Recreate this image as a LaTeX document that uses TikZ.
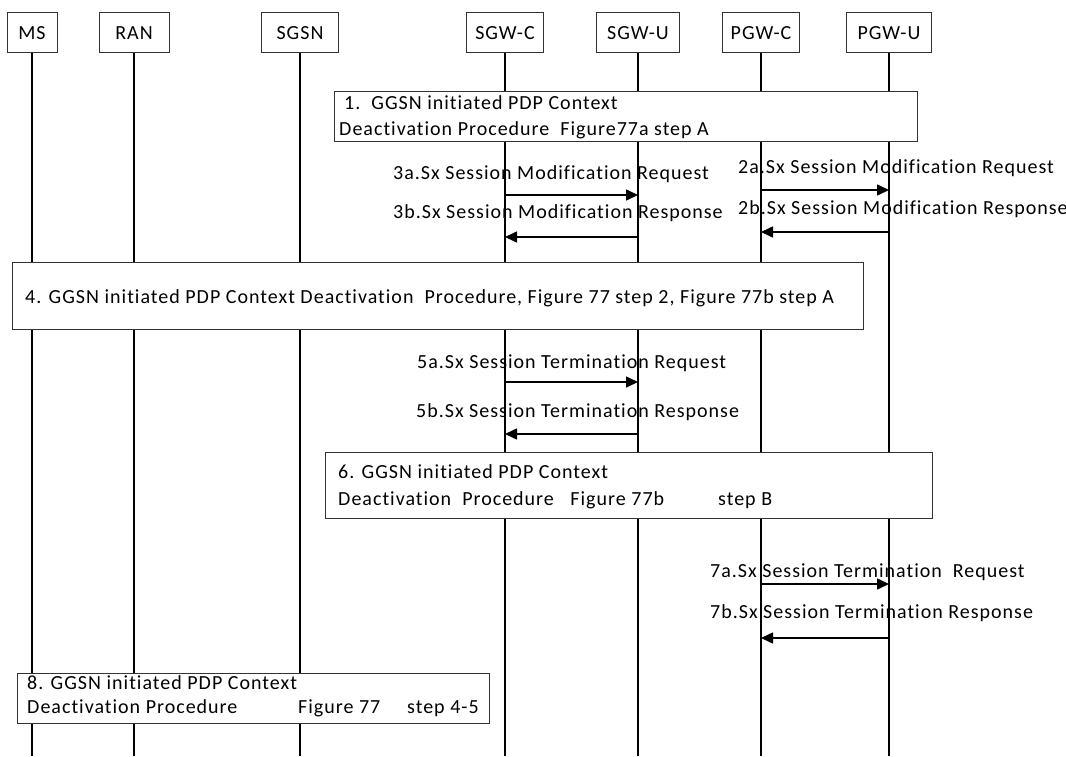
\documentclass[tikz,border=0pt]{standalone}
\usepackage{fontspec}
\setmainfont{Carlito}
\newfontfamily\dfont[LetterSpace=5, Ligatures={NoCommon,NoContextual}, Contextuals=NoAlternate]{Carlito}
\usetikzlibrary{arrows.meta}
\begin{document}
\begin{tikzpicture}[x=1pt,y=-1pt,
  txt/.style={font=\dfont\fontsize{20}{24}\selectfont},
  head/.style={txt, draw=black!80, line width=0.9pt, fill=white, minimum height=40pt, inner sep=0pt},
  life/.style={line width=1.2pt},
  msg/.style={line width=1.6pt, -{Triangle[length=12pt,width=11pt]}},
  lbl/.style={txt, anchor=base west, inner sep=0pt},
  pbox/.style={draw=black!80, line width=0.9pt, fill=white, anchor=north west, inner sep=0pt}
]
\useasboundingbox (0,0) rectangle (1066,756);
\coordinate (bottom) at (0,756);
% headers
\node[head, minimum width=50pt] (hMS) at (32,32.7) {MS};
\node[head, minimum width=70pt] (hRAN) at (134,32.7) {RAN};
\node[head, minimum width=77pt] (hSGSN) at (300,32.7) {SGSN};
\node[head, minimum width=77pt] (hSGWC) at (505,32.7) {SGW-C};
\node[head, minimum width=83pt] (hSGWU) at (638,32.7) {SGW-U};
\node[head, minimum width=77pt] (hPGWC) at (761,32.7) {PGW-C};
\node[head, minimum width=85pt] (hPGWU) at (889,32.7) {PGW-U};
% lifelines
\foreach \n in {hMS,hRAN,hSGSN,hSGWC,hSGWU,hPGWC,hPGWU}
  \draw[life] (\n.south) -- (\n.south |- bottom);
% procedure boxes
\node[pbox, minimum width=583pt, minimum height=50pt] (b1) at (334,90.7) {};
\node[lbl] (t1a) at (344,109.3) {1.\ \ GGSN initiated PDP Context};
\node[lbl] (t1b) at (339,135.7) {Deactivation Procedure\ \ Figure77a step A};
\node[pbox, minimum width=851pt, minimum height=67pt] (b4) at (12,262) {};
\node[lbl] (t4) at (25,303) {4. GGSN initiated PDP Context Deactivation\ \ Procedure, Figure 77 step 2, Figure 77b step A};
\node[pbox, minimum width=607pt, minimum height=66pt] (b6) at (325,452) {};
\node[lbl] (t6a) at (338,478) {6. GGSN initiated PDP Context};
\node[lbl] (t6b) at (338,505) {Deactivation\ \ Procedure\ \ \ Figure 77b};
\node[lbl] (t6c) at (718,505) {step B};
\node[pbox, minimum width=472pt, minimum height=50pt] (b8) at (17,673) {};
\node[lbl] (t8a) at (27,689) {8. GGSN initiated PDP Context};
\node[lbl] (t8b) at (27,713) {Deactivation Procedure};
\node[lbl] (t8c) at (298,713) {Figure 77};
\node[lbl] (t8d) at (407,713) {step 4-5};
% messages
\draw[msg] (hSGWC |- 0,195) -- (hSGWU |- 0,195);
\draw[msg] (hSGWU |- 0,237) -- (hSGWC |- 0,237);
\draw[msg] (hPGWC |- 0,190) -- (hPGWU |- 0,190);
\draw[msg] (hPGWU |- 0,232) -- (hPGWC |- 0,232);
\draw[msg] (hSGWC |- 0,382) -- (hSGWU |- 0,382);
\draw[msg] (hSGWU |- 0,434) -- (hSGWC |- 0,434);
\draw[msg] (hPGWC |- 0,584) -- (hPGWU |- 0,584);
\draw[msg] (hPGWU |- 0,638) -- (hPGWC |- 0,638);
% labels
\node[lbl] (m3a) at (393,179) {3a.Sx Session Modification Request};
\node[lbl] (m3b) at (393,218) {3b.Sx Session Modification Response};
\node[lbl] (m2a) at (738,173) {2a.Sx Session Modification Request};
\node[lbl] (m2b) at (738,214) {2b.Sx Session Modification Response};
\node[lbl] (m5a) at (417,368) {5a.Sx Session Termination Request};
\node[lbl] (m5b) at (416,417) {5b.Sx Session Termination Response};
\node[lbl] (m7a) at (710,577) {7a.Sx Session Termination\ \ Request};
\node[lbl] (m7b) at (710,618) {7b.Sx Session Termination Response};
\end{tikzpicture}
\end{document}
